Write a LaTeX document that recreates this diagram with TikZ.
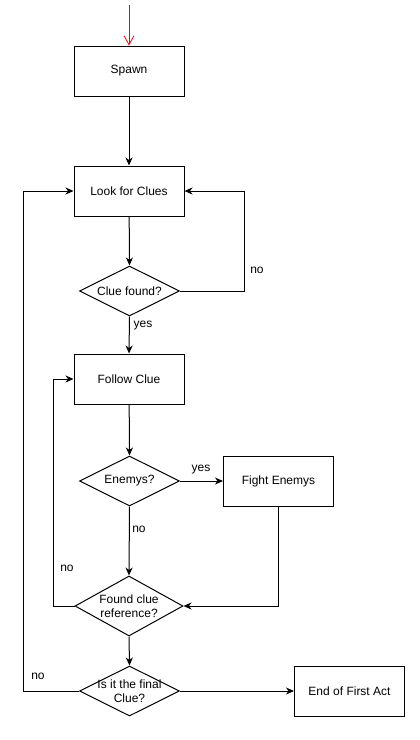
\documentclass[tikz,border=0pt]{standalone}
\usepackage{fontspec}
\setmainfont{Liberation Sans}
\usetikzlibrary{shapes.geometric,arrows.meta}
\tikzset{
  box/.style={draw, line width=1pt, rectangle, minimum width=110pt, minimum height=50pt, inner sep=0pt, font=\fontsize{12}{14}\selectfont},
  dia/.style={draw, line width=1pt, diamond, minimum width=100pt, minimum height=50pt, inner sep=0pt},
  diatext/.style={label={[align=center, font=\fontsize{12}{14}\selectfont]center:#1}},
  arr/.style={line width=1pt, -{Stealth[length=8pt,width=7pt,inset=2.5pt]}},
  conn/.style={line width=1pt},
  lbl/.style={font=\fontsize{12}{14}\selectfont, inner sep=0pt}
}
\begin{document}
\begin{tikzpicture}[x=1pt, y=-1pt]
\useasboundingbox (0,0) rectangle (420,740);
\node[box] (spawn) at (129,71) {Spawn};
\node[box] (look) at (129,191) {Look for Clues};
\node[dia, diatext={Clue found?}] (clue) at (129.5,291) {};
\node[box] (follow) at (129,379) {Follow Clue};
\node[dia, diatext={Enemys?}] (enemy) at (129.5,481) {};
\node[box] (fight) at (278.5,481) {Fight Enemys};
\node[dia, minimum width=108pt, minimum height=60pt, diatext={Found clue\\reference?}] (found) at (129,606) {};
\node[dia, diatext={Is it the final\\Clue?}] (final) at (129.5,691) {};
\node[box] (end) at (349.5,691) {End of First Act};
\coordinate (start) at (129,5);

\draw[red, line width=0.8pt, -{Straight Barb[length=9pt,width=10pt]}] (start) -- (spawn.north);
\draw[arr] (spawn) -- (look);
\draw[arr] (look) -- (clue.north);
\draw[arr] (clue.east) -| ([xshift=60pt]look.east) -- (look.east);
\node[lbl] (no1) at (257,270) {no};
\draw[arr] (clue.south) -- (follow.north);
\node[lbl] (yes1) at (143,326) {yes};
\draw[arr] (follow) -- (enemy.north);
\draw[arr] (enemy.east) -- (fight.west);
\node[lbl] (yes2) at (201,470) {yes};
\draw[arr] (enemy.south) -- (found.north);
\node[lbl] (no2) at (139,529) {no};
\draw[arr] (fight.south) |- (found.east);
\draw[arr] (found.west) -- ++(-21,0) |- (follow.west);
\node[lbl] (no3) at (67,568) {no};
\draw[arr] (found.south) -- (final.north);
\draw[arr] (final.east) -- (end.west);
\draw[arr] (final.west) -- ++(-55.5,0) |- (look.west);
\node[lbl] (no4) at (38,676) {no};
\end{tikzpicture}
\end{document}
